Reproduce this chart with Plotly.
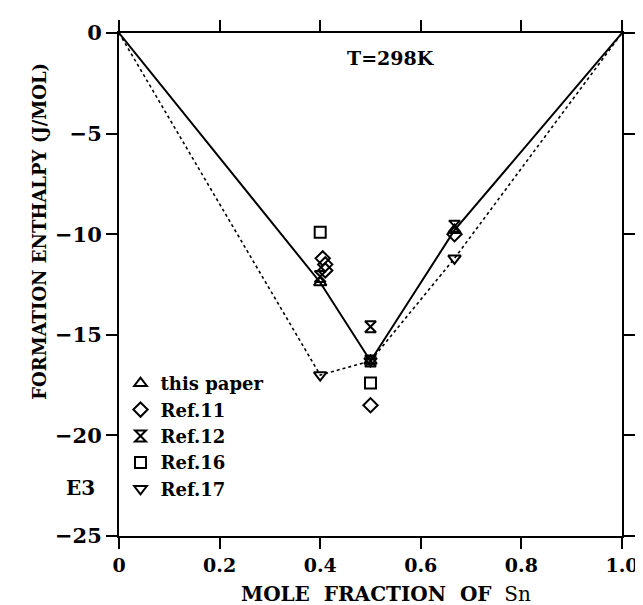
import plotly.graph_objects as go

# Model / guide lines
solid_x = [0, 0.4, 0.5, 0.667, 1.0]
solid_y = [0, -12.4, -16.3, -9.8, 0]
dot_x = [0, 0.4, 0.5, 0.667, 1.0]
dot_y = [0, -17.0, -16.3, -11.2, 0]

# Data series
this_x = [0.4, 0.5, 0.667]
this_y = [-12.4, -16.3, -9.8]
ref11_x = [0.405, 0.41, 0.41, 0.5, 0.667]
ref11_y = [-11.2, -11.5, -11.8, -18.5, -10.0]
ref12_x = [0.4, 0.5, 0.5, 0.667]
ref12_y = [-12.1, -14.6, -16.3, -9.6]
ref16_x = [0.4, 0.5]
ref16_y = [-9.9, -17.4]
ref17_x = [0.4, 0.5, 0.667]
ref17_y = [-17.0, -16.3, -11.2]

x_ticks = [0, 0.2, 0.4, 0.6, 0.8, 1.0]
x_ticklabels = ["0", "0.2", "0.4", "0.6", "0.8", "1.0"]
y_ticks = [0, -5, -10, -15, -20, -25]
y_ticklabels = ["0", "−5", "−10", "−15", "−20", "−25"]

FONT = "DejaVu Serif"
NB = "\u00a0"
fig = go.Figure()

fig.add_trace(go.Scatter(x=solid_x, y=solid_y, mode="lines",
                         line=dict(color="black", width=2), showlegend=False))
fig.add_trace(go.Scatter(x=dot_x, y=dot_y, mode="lines",
                         line=dict(color="black", width=1.6, dash="dot"), showlegend=False))

series = [
    ("this" + NB + "paper", this_x, this_y, "triangle-up-open"),
    ("Ref.11", ref11_x, ref11_y, "diamond-open"),
    ("Ref.12", ref12_x, ref12_y, "hourglass-open"),
    ("Ref.16", ref16_x, ref16_y, "square-open"),
    ("Ref.17", ref17_x, ref17_y, "triangle-down-open"),
]
for name, xs, ys, sym in series:
    fig.add_trace(go.Scatter(x=xs, y=ys, mode="markers", name=name,
                             marker=dict(symbol=sym, size=11, color="black",
                                         line=dict(color="black", width=2))))

axis_common = dict(showline=True, linecolor="black", linewidth=2, mirror="ticks",
                   ticks="outside", ticklen=11, tickwidth=1.5, tickcolor="black",
                   showgrid=False, zeroline=False)

fig.update_xaxes(range=[0, 1.0], tickvals=x_ticks, ticktext=x_ticklabels,
                 tickfont=dict(family=FONT, size=19, color="black", weight="bold"),
                 **axis_common)
fig.update_yaxes(range=[-25, 0], tickvals=y_ticks, ticktext=y_ticklabels,
                 tickfont=dict(family=FONT, size=21, color="black", weight="bold"),
                 **axis_common)

# Axis titles
fig.add_annotation(x=0.53, y=-0.115, xref="paper", yref="paper",
                   text="<b>MOLE" + NB + NB + "FRACTION" + NB + NB + "OF</b>" + NB + NB + "Sn",
                   showarrow=False, xanchor="center", yanchor="middle",
                   font=dict(family=FONT, size=20, color="black"))
fig.add_annotation(x=-0.158, y=0.606, xref="paper", yref="paper",
                   text="<b>FORMATION ENTHALPY (J/MOL)</b>", textangle=-90,
                   showarrow=False, xanchor="center", yanchor="middle",
                   font=dict(family=FONT, size=18, color="black"))

fig.add_annotation(x=0.54, y=-1.25, xref="x", yref="y", text="<b>T=298K</b>",
                   showarrow=False, font=dict(family=FONT, size=19, color="black"))
fig.add_annotation(x=-0.043, y=-22.6, xref="paper", yref="y", text="<b>E3</b>",
                   xanchor="right", showarrow=False,
                   font=dict(family=FONT, size=20, color="black"))

fig.update_layout(
    width=643, height=605,
    margin=dict(l=111, r=19, t=23, b=77),
    plot_bgcolor="white", paper_bgcolor="white",
    legend=dict(x=0.003, y=0.34, xanchor="left", yanchor="top",
                bgcolor="rgba(0,0,0,0)", tracegroupgap=0, itemwidth=30,
                font=dict(family=FONT, size=18, color="black", weight="bold")),
)

fig.write_html("out.html")
